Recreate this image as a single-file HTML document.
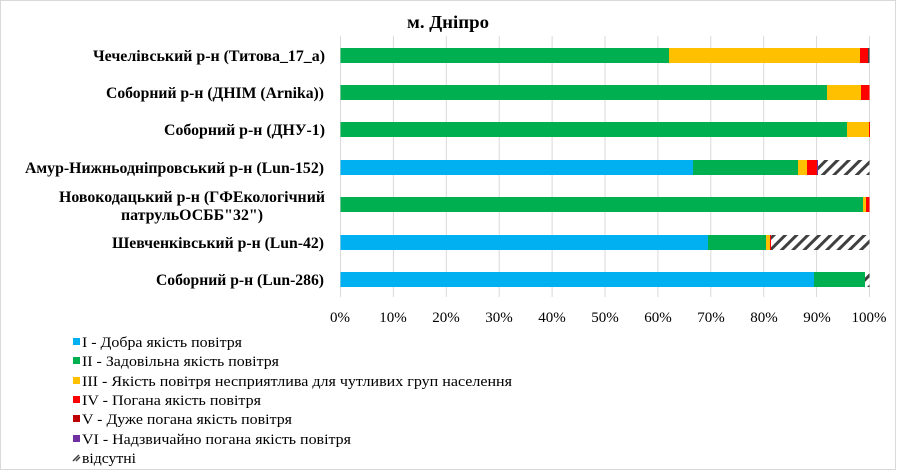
<!DOCTYPE html>
<html><head><meta charset="utf-8"><style>
html,body{margin:0;padding:0;background:#fff;}
svg{display:block;}
text{font-family:"Liberation Serif","DejaVu Serif",serif;}
</style></head><body>
<svg width="897" height="472" viewBox="0 0 897 472" xmlns="http://www.w3.org/2000/svg">
<defs>
<pattern id="h" patternUnits="userSpaceOnUse" width="8" height="8" patternTransform="rotate(45)">
<rect width="8" height="8" fill="#fff"/><rect x="0" y="0" width="3" height="8" fill="#404040"/>
</pattern>
</defs>
<rect x="0.5" y="0.5" width="895" height="469" fill="#fff" stroke="#d9d9d9"/>
<text x="448" y="28" font-size="18" font-weight="bold" text-anchor="middle" textLength="82" lengthAdjust="spacingAndGlyphs">м. Дніпро</text>
<g stroke="#d9d9d9" stroke-width="1">
<line x1="340.5" y1="36" x2="340.5" y2="297"/><line x1="393.4" y1="36" x2="393.4" y2="297"/><line x1="446.3" y1="36" x2="446.3" y2="297"/><line x1="499.2" y1="36" x2="499.2" y2="297"/><line x1="552.1" y1="36" x2="552.1" y2="297"/><line x1="605" y1="36" x2="605" y2="297"/><line x1="657.9" y1="36" x2="657.9" y2="297"/><line x1="710.8" y1="36" x2="710.8" y2="297"/><line x1="763.7" y1="36" x2="763.7" y2="297"/><line x1="816.6" y1="36" x2="816.6" y2="297"/><line x1="869.5" y1="36" x2="869.5" y2="297"/>
</g>
<g font-size="15" text-anchor="middle">
<text x="340" y="322">0%</text><text x="393" y="322">10%</text><text x="446" y="322">20%</text><text x="499" y="322">30%</text><text x="552" y="322">40%</text><text x="605" y="322">50%</text><text x="658" y="322">60%</text><text x="711" y="322">70%</text><text x="764" y="322">80%</text><text x="817" y="322">90%</text><text x="869" y="322">100%</text>
</g>
<rect x="340.5" y="48" width="328.5" height="15" fill="#00b050"/><rect x="669" y="48" width="191" height="15" fill="#ffc000"/><rect x="860" y="48" width="8" height="15" fill="#ff0000"/><rect x="868" y="48" width="1.5" height="15" fill="#404040"/>
<rect x="340.5" y="85" width="486.5" height="15" fill="#00b050"/><rect x="827" y="85" width="34" height="15" fill="#ffc000"/><rect x="861" y="85" width="8.5" height="15" fill="#ff0000"/>
<rect x="340.5" y="122" width="506.5" height="15" fill="#00b050"/><rect x="847" y="122" width="22" height="15" fill="#ffc000"/><rect x="869" y="122" width="1" height="15" fill="#ff0000"/>
<rect x="340.5" y="160" width="352.5" height="15" fill="#00b0f0"/><rect x="693" y="160" width="105" height="15" fill="#00b050"/><rect x="798" y="160" width="9" height="15" fill="#ffc000"/><rect x="807" y="160" width="10" height="15" fill="#ff0000"/><rect x="817" y="160" width="1" height="15" fill="#7030a0"/><rect x="818" y="160" width="51.5" height="15" fill="url(#h)"/>
<rect x="340.5" y="197" width="522.5" height="15" fill="#00b050"/><rect x="863" y="197" width="3" height="15" fill="#ffc000"/><rect x="866" y="197" width="3.5" height="15" fill="#ff0000"/>
<rect x="340.5" y="235" width="367.5" height="15" fill="#00b0f0"/><rect x="708" y="235" width="58" height="15" fill="#00b050"/><rect x="766" y="235" width="4" height="15" fill="#ffc000"/><rect x="770" y="235" width="1" height="15" fill="#ff0000"/><rect x="771" y="235" width="98.5" height="15" fill="url(#h)"/>
<rect x="340.5" y="272" width="473.5" height="15" fill="#00b0f0"/><rect x="814" y="272" width="51" height="15" fill="#00b050"/><rect x="865" y="272" width="4.5" height="15" fill="url(#h)"/>
<g font-size="15.5" font-weight="bold" lengthAdjust="spacingAndGlyphs">
<text x="93" y="61" textLength="232" lengthAdjust="spacingAndGlyphs">Чечелівський р-н (Титова_17_а)</text>
<text x="106" y="98" textLength="218" lengthAdjust="spacingAndGlyphs">Соборний  р-н (ДНІМ (Arnika))</text>
<text x="164" y="135" textLength="161" lengthAdjust="spacingAndGlyphs">Соборний  р-н (ДНУ-1)</text>
<text x="25" y="173" textLength="299" lengthAdjust="spacingAndGlyphs">Амур-Нижньодніпровський  р-н (Lun-152)</text>
<text x="59" y="202" textLength="266" lengthAdjust="spacingAndGlyphs">Новокодацький р-н (ГФЕкологічний</text>
<text x="121" y="220" textLength="142" lengthAdjust="spacingAndGlyphs">патрульОСББ"32")</text>
<text x="112" y="248" textLength="212" lengthAdjust="spacingAndGlyphs">Шевченківський р-н (Lun-42)</text>
<text x="156" y="285" textLength="168" lengthAdjust="spacingAndGlyphs">Соборний р-н (Lun-286)</text>
</g>
<g font-size="14.5">
<rect x="73" y="338" width="7" height="7" fill="#00b0f0"/><text x="82" y="347" textLength="160" lengthAdjust="spacingAndGlyphs">I - Добра якість  повітря</text>
<rect x="73" y="357" width="7" height="7" fill="#00b050"/><text x="82" y="366" textLength="197" lengthAdjust="spacingAndGlyphs">II - Задовільна якість  повітря</text>
<rect x="73" y="377" width="7" height="7" fill="#ffc000"/><text x="82" y="386" textLength="430" lengthAdjust="spacingAndGlyphs">III - Якість повітря несприятлива для чутливих груп населення</text>
<rect x="73" y="396" width="7" height="7" fill="#ff0000"/><text x="82" y="405" textLength="179" lengthAdjust="spacingAndGlyphs">IV - Погана якість  повітря</text>
<rect x="73" y="415" width="7" height="7" fill="#c00000"/><text x="82" y="424" textLength="210" lengthAdjust="spacingAndGlyphs">V - Дуже погана якість  повітря</text>
<rect x="73" y="435" width="7" height="7" fill="#7030a0"/><text x="82" y="444" textLength="269" lengthAdjust="spacingAndGlyphs">VI - Надзвичайно погана якість  повітря</text>
<path d="M73 461 L79 455 M76 461 L80 457" stroke="#404040" stroke-width="1.5"/><text x="82" y="463" textLength="54" lengthAdjust="spacingAndGlyphs">відсутні</text>
</g>
</svg>
</body></html>
